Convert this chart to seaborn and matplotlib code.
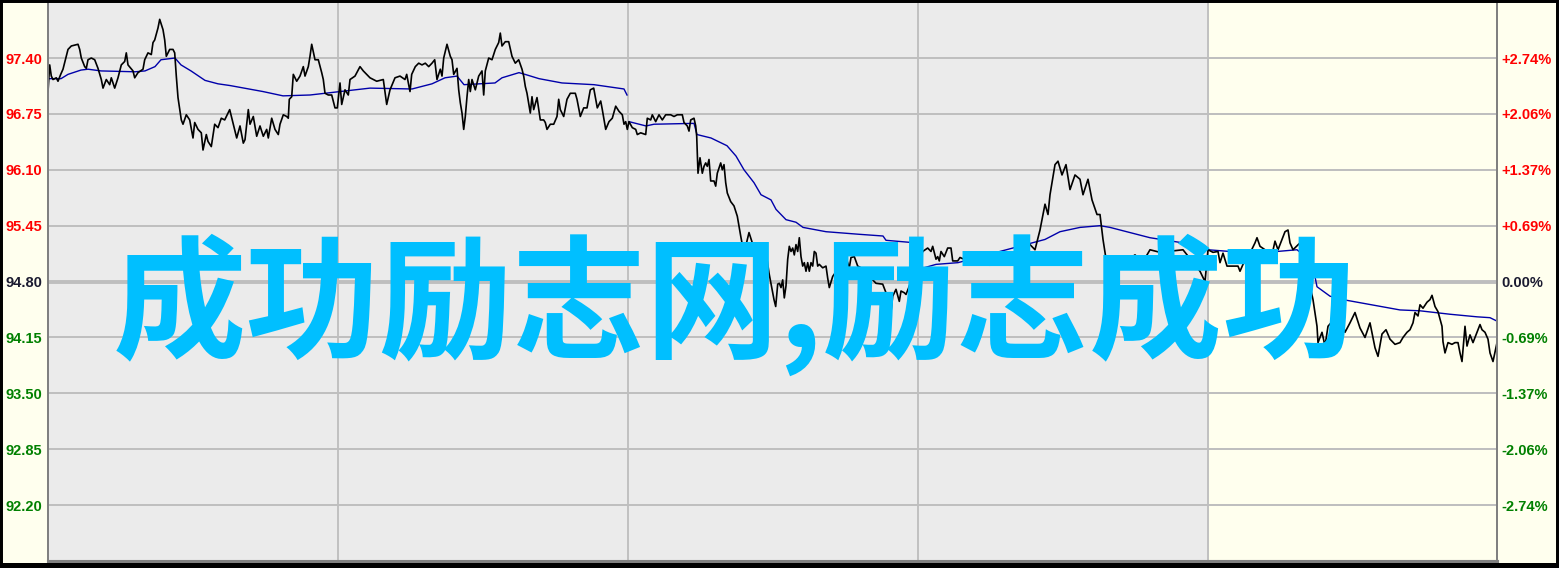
import matplotlib
matplotlib.use('Agg')
import matplotlib.pyplot as plt
import matplotlib.patches as mpatches
import pandas as pd
import seaborn as sns

# time in bars (290 bars per session), price values
price_t = [0, 1.7, 3.3, 5, 8.3, 10, 12.7, 15, 18.3, 20, 23.3, 30, 31.7, 33.3, 36.7, 38.3, 40, 43.3, 46.7, 50,
           53.3, 55, 58.3, 61.7, 63.3, 66.7, 70, 73.3, 76.7, 78.3, 80, 85, 86.7, 90, 95, 96.7, 100, 103.3, 105, 106.7,
           110, 111.7, 115, 116.7, 118.3, 121.7, 125, 126.7, 128.3, 130, 133.3, 135, 138.3, 141.7, 145, 146.7, 150, 153.3, 155, 158.3,
           160, 163.3, 166.7, 170, 173.3, 176.7, 181.7, 185.3, 188.7, 192, 195.3, 197, 200.3, 202, 205.3, 208.7, 212, 215.3, 218.7, 220.3,
           223.7, 227, 230.3, 232, 235.3, 238.7, 240.3, 241.3, 243.7, 245.3, 248.7, 252, 255.3, 257, 260.3, 262, 263.7, 267, 270.3, 273.7,
           275.3, 277, 280.3, 283.7, 287, 289.3, 292, 293.7, 297, 300.3, 302, 307, 312, 315.3, 318.7, 322, 328.7, 335.3, 338.7, 342,
           347, 352, 357, 358.7, 362, 363.7, 367.3, 370.7, 374, 377.3, 380.7, 384, 386.7, 389, 392.3, 394, 395.7, 399, 402.3, 404,
           405.7, 409, 410.7, 412.3, 414, 415.7, 417.3, 419, 420.7, 422.3, 424, 427.3, 430.7, 434, 435.7, 437.3, 440.7, 444, 447.3, 450.7,
           452.3, 454, 457.3, 460.7, 464, 467.3, 470.7, 474, 475.7, 477.3, 479, 482.3, 484, 485.7, 489, 492.3, 495.7, 497.3, 499, 502.3,
           505.7, 509, 510.7, 512.3, 515.7, 519, 522.3, 527.3, 529, 532.3, 535.7, 539, 542.3, 545.7, 549.3, 552.7, 554.3, 557.7, 561, 564.3,
           567.7, 571, 574.3, 576, 577.7, 579.3, 581, 584.3, 587.7, 589.3, 592.7, 597.7, 599.3, 602.7, 604.3, 607.7, 611, 614.3, 617.7, 622.7,
           626, 629.3, 634.3, 636, 639.3, 641, 642.7, 646, 647.7, 648.7, 650, 652, 654.3, 656, 657.7, 659.3, 661, 662.7, 666, 667.7,
           669.3, 672.7, 674.3, 676, 677.7, 679.3, 682.7, 686, 689.3, 692.7, 694.3, 697.7, 701, 704.3, 707.7, 712.7, 719.3, 721, 726, 727.7,
           729.7, 731.3, 733, 734.7, 736.3, 738, 739.7, 741.3, 743, 744.7, 746.3, 748, 749.7, 751.3, 753, 754.7, 756.3, 758, 759.7, 761.3,
           763, 764.7, 766.3, 768, 769.7, 771.3, 774.7, 778, 779.7, 781.3, 784.7, 798, 801.3, 803, 806.3, 809.7, 813, 828, 834.7, 838,
           843, 844.7, 848, 851.3, 853, 856.3, 858, 873, 874.7, 879.7, 883, 884.7, 888, 889.7, 891.3, 893, 896.3, 899.7, 903, 904.7,
           909.7, 912, 922, 932, 942, 952, 962, 972, 982, 987, 992, 997, 1000, 1002, 1007, 1010, 1014, 1018, 1022, 1027,
           1032, 1035, 1040, 1044, 1049, 1052, 1055, 1059, 1067, 1077, 1087, 1095, 1102, 1112, 1135, 1152, 1157, 1160, 1165, 1170,
           1172, 1175, 1179, 1190, 1192, 1195, 1202, 1207, 1209, 1212, 1217, 1224, 1227, 1230, 1234, 1237, 1240, 1242, 1245, 1252,
           1262, 1265, 1269, 1270, 1274, 1277, 1280, 1292, 1297, 1302, 1307, 1312, 1317, 1322, 1327, 1330, 1334, 1338, 1342, 1347,
           1352, 1355, 1359, 1362, 1365, 1367, 1370, 1372, 1375, 1379, 1382, 1384, 1387, 1390, 1394, 1395, 1397, 1400, 1404, 1407,
           1410, 1412, 1414, 1417, 1419, 1422, 1425, 1429, 1432, 1434, 1437, 1440, 1442, 1445, 1449]
price_v = [97.01, 97.32, 97.19, 97.15, 97.17, 97.13, 97.21, 97.27, 97.42, 97.50, 97.54, 97.56, 97.50, 97.40, 97.30, 97.28, 97.38, 97.40, 97.38, 97.28,
           97.15, 97.05, 97.15, 97.09, 97.17, 97.05, 97.17, 97.32, 97.36, 97.46, 97.32, 97.25, 97.17, 97.23, 97.27, 97.38, 97.46, 97.44, 97.58, 97.61,
           97.75, 97.85, 97.73, 97.61, 97.42, 97.50, 97.50, 97.46, 97.19, 96.94, 96.68, 96.63, 96.74, 96.68, 96.47, 96.65, 96.57, 96.53, 96.33, 96.51,
           96.43, 96.37, 96.63, 96.59, 96.70, 96.68, 96.80, 96.63, 96.47, 96.61, 96.41, 96.45, 96.80, 96.63, 96.72, 96.49, 96.61, 96.49, 96.57, 96.47,
           96.70, 96.57, 96.51, 96.63, 96.74, 96.72, 96.70, 96.92, 96.95, 97.21, 97.13, 97.19, 97.30, 97.19, 97.30, 97.42, 97.56, 97.38, 97.38, 97.23,
           97.15, 96.99, 96.97, 96.97, 96.82, 96.82, 97.11, 96.86, 97.03, 96.97, 97.15, 97.19, 97.30, 97.25, 97.21, 97.17, 97.13, 97.15, 96.86, 97.03,
           97.17, 97.19, 97.15, 97.21, 97.01, 97.21, 97.30, 97.34, 97.32, 97.34, 97.30, 97.34, 97.38, 97.15, 97.27, 97.19, 97.40, 97.56, 97.42, 97.38,
           97.21, 97.28, 97.03, 96.88, 96.76, 96.57, 96.72, 96.95, 97.15, 97.01, 97.15, 97.03, 97.19, 97.25, 96.97, 97.25, 97.40, 97.38, 97.50, 97.58,
           97.69, 97.54, 97.59, 97.59, 97.42, 97.34, 97.38, 97.27, 97.19, 97.07, 96.99, 96.76, 96.95, 96.80, 96.94, 96.68, 96.68, 96.65, 96.57, 96.63,
           96.63, 96.72, 96.92, 96.80, 96.72, 96.92, 96.99, 96.99, 96.92, 96.72, 96.82, 96.82, 97.03, 97.05, 96.82, 96.90, 96.80, 96.57, 96.66, 96.70,
           96.84, 96.78, 96.74, 96.63, 96.66, 96.57, 96.66, 96.59, 96.57, 96.51, 96.53, 96.51, 96.70, 96.68, 96.74, 96.66, 96.74, 96.68, 96.74, 96.74,
           96.72, 96.74, 96.74, 96.65, 96.61, 96.55, 96.68, 96.70, 96.61, 96.49, 96.06, 96.24, 96.06, 96.14, 96.18, 96.14, 96.22, 95.97, 95.97, 95.91,
           96.06, 96.18, 96.10, 96.16, 95.95, 95.83, 95.73, 95.68, 95.56, 95.33, 95.23, 95.21, 95.37, 95.25, 95.21, 95.06, 95.04, 94.90, 94.59, 94.51,
           94.77, 94.78, 94.73, 94.82, 94.61, 94.75, 95.06, 95.21, 95.15, 95.19, 95.11, 95.23, 95.15, 95.31, 95.09, 94.98, 95.02, 94.92, 95.02, 94.92,
           95.02, 94.98, 95.15, 95.13, 94.98, 95.00, 94.96, 94.98, 94.84, 94.73, 94.86, 95.08, 94.96, 95.08, 95.09, 94.98, 94.96, 94.78, 94.77, 94.67,
           94.45, 94.63, 94.71, 94.57, 94.69, 94.67, 94.65, 95.09, 95.15, 95.19, 95.15, 95.21, 95.06, 95.09, 95.04, 95.15, 95.09, 95.19, 95.19, 95.04,
           95.04, 95.08, 95.03, 95.11, 94.99, 95.06, 94.99, 95.11, 95.23, 95.17, 95.40, 95.70, 95.58, 95.81, 96.16, 96.20, 96.04, 96.16, 95.87, 96.04,
           95.99, 95.81, 95.99, 95.75, 95.58, 95.58, 95.29, 94.99, 95.08, 95.03, 95.11, 95.03, 95.17, 95.14, 95.17, 94.92, 94.80, 95.17, 95.14, 95.15,
           95.02, 95.13, 94.98, 94.98, 94.92, 95.00, 95.13, 95.25, 95.31, 95.21, 95.17, 95.11, 95.27, 95.17, 95.29, 95.38, 95.40, 95.25, 95.17, 95.25,
           94.75, 94.59, 94.28, 94.09, 94.21, 94.05, 94.28, 94.44, 94.21, 94.32, 94.44, 94.26, 94.15, 94.32, 94.03, 93.93, 94.19, 94.24, 94.13, 94.07,
           94.09, 94.15, 94.21, 94.24, 94.32, 94.44, 94.40, 94.53, 94.49, 94.56, 94.59, 94.64, 94.51, 94.45, 94.28, 94.10, 93.97, 94.09, 94.07, 94.09,
           94.09, 93.97, 93.87, 94.28, 94.05, 94.18, 94.09, 94.21, 94.30, 94.24, 94.21, 94.13, 93.97, 93.87, 94.09]

# average price line, one list per run
avg1_t = [0, 13, 20, 33, 40, 53, 87, 97, 107, 113, 127, 133, 143, 157, 170, 182, 215, 235, 262, 292,
          322, 364, 384, 397, 409, 416, 447, 454, 471, 477, 491, 514, 546, 576, 579]
avg1_v = [97.16, 97.16, 97.21, 97.26, 97.27, 97.25, 97.24, 97.25, 97.30, 97.38, 97.40, 97.32, 97.25, 97.14, 97.10, 97.08, 97.01, 96.96, 96.97, 97.01,
          97.05, 97.04, 97.10, 97.17, 97.19, 97.09, 97.11, 97.17, 97.23, 97.21, 97.16, 97.11, 97.09, 97.04, 96.97]
avg2_t = [581, 598, 606, 646, 649, 663, 679, 688, 696, 706, 713, 723, 728, 738, 748, 755, 778, 811, 835, 838, 868]
avg2_v = [96.66, 96.61, 96.63, 96.64, 96.51, 96.47, 96.38, 96.26, 96.10, 95.95, 95.81, 95.75, 95.64, 95.52, 95.49, 95.43, 95.38, 95.35, 95.33, 95.28, 95.25]
avg3_t = [873, 888, 910, 997, 1012, 1032, 1052, 1062, 1102, 1135, 1152, 1160, 1182, 1212, 1229, 1249, 1264, 1269, 1282, 1295,
          1352, 1372, 1402, 1429, 1442, 1449]
avg3_v = [94.95, 95.00, 95.02, 95.29, 95.38, 95.43, 95.45, 95.43, 95.31, 95.25, 95.21, 95.17, 95.15, 95.14, 95.15, 95.17, 95.03, 94.74, 94.63, 94.59,
          94.47, 94.46, 94.42, 94.39, 94.38, 94.34]

session_breaks = [290, 580, 870, 1160]
prev_close = 94.80
y_ticks = [92.20, 92.85, 93.50, 94.15, 94.80, 95.45, 96.10, 96.75, 97.40]
left_labels = ['92.20', '92.85', '93.50', '94.15', '94.80', '95.45', '96.10', '96.75', '97.40']
right_labels = ['-2.74%', '-2.06%', '-1.37%', '-0.69%', '0.00%', '+0.69%', '+1.37%', '+2.06%', '+2.74%']
watermark = '成功励志网,励志成功'

W, H = 1559, 568
fig = plt.figure(figsize=(W / 100, H / 100), dpi=100)
fig.patch.set_facecolor('#FFFFEE')
ax = fig.add_axes([48 / W, 1 - 561 / H, (1497 - 48) / W, (561 - 3) / H])
ax.set_facecolor('#FFFFEE')
ax.axvspan(0, session_breaks[-1], color='#EBEBEB', lw=0, zorder=0)

for xb in session_breaks:
    ax.axvline(xb, color='#C0C0C0', lw=1.4, zorder=1)
for yt in y_ticks:
    ax.axhline(yt, color='#BEBEBE', lw=2.8 if yt == prev_close else 1.4, zorder=1)

df = pd.DataFrame({'t': price_t, 'price': price_v})
sns.lineplot(data=df, x='t', y='price', ax=ax, color='black', lw=1.2, estimator=None, sort=False, zorder=3)
for tt, vv in [(avg1_t, avg1_v), (avg2_t, avg2_v), (avg3_t, avg3_v)]:
    sns.lineplot(x=tt, y=vv, ax=ax, color='#0000AA', lw=1.0, estimator=None, sort=False, zorder=2)

ax.set_xlim(0, 1449)
ax.set_ylim(91.55, 98.04)
ax.set_xticks([])
ax.set_xlabel('')
ax.set_ylabel('')
ax.set_yticks(y_ticks)
ax.set_yticklabels(left_labels)
ax.tick_params(axis='y', length=0, pad=4)

ax2 = ax.twinx()
ax2.set_ylim(ax.get_ylim())
ax2.set_yticks(y_ticks)
ax2.set_yticklabels(right_labels)
ax2.tick_params(axis='y', length=0, pad=3.5)

def label_color(v):
    if v > prev_close + 1e-6:
        return '#FF0000'
    if v < prev_close - 1e-6:
        return '#008000'
    return '#1A1A30'

for a in (ax, ax2):
    for lab, v in zip(a.get_yticklabels(), y_ticks):
        lab.set_color(label_color(v))
        lab.set_fontfamily('Liberation Sans')
        lab.set_fontweight('bold')
        lab.set_fontsize(10.5)
    a.spines['top'].set_visible(False)
    for s in ('left', 'right'):
        a.spines[s].set_color('#808080')
        a.spines[s].set_linewidth(1.4)
    a.spines['bottom'].set_color('#808080')
    a.spines['bottom'].set_linewidth(2.2)

fig.text(734 / W, 1 - 306 / H, watermark, ha='center', va='center', color='#00BFFF',
         fontsize=96, fontweight='bold', family=['Noto Sans CJK SC', 'DejaVu Sans'], zorder=10)

# black frame around the picture
fig.add_artist(mpatches.Rectangle((0, 0), 1, 1, transform=fig.transFigure, fill=False,
                                  ec='black', lw=4.3, zorder=20))
fig.add_artist(mpatches.Rectangle((0, 0), 1, 5 / H, transform=fig.transFigure, color='black', lw=0, zorder=20))

fig.savefig('out.png', dpi=100, facecolor=fig.get_facecolor())
